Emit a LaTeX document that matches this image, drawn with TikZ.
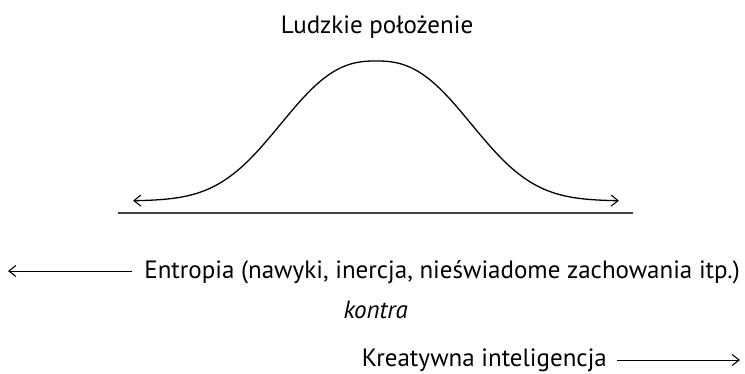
\documentclass[tikz,border=0pt]{standalone}
\usepackage{fontspec}
\setmainfont{PT Sans}
\usetikzlibrary{arrows.meta}
\begin{document}
\begin{tikzpicture}[x=1pt,y=-1pt,
  lbl/.style={inner sep=0pt,font=\fontsize{25}{29}\selectfont},
  barb/.style={Straight Barb[length=7pt,width=11pt,line width=1.1pt]},
  conn/.style={line width=0.9pt,-{Straight Barb[length=7pt,width=11pt,line width=1.1pt]}}]
\useasboundingbox (0,0) rectangle (745,373);
\node[lbl,anchor=base] (title) at (377,33) {Ludzkie położenie};
\coordinate (bl) at (118,213);
\coordinate (br) at (633,213);
\draw[line width=1.6pt,black!75] (bl) -- (br);
\draw[line width=1.3pt,{Straight Barb[length=7pt,width=11pt,line width=1.1pt]}-{Straight Barb[length=7pt,width=11pt,line width=1.1pt]}]
  plot[domain=133:619,samples=160,smooth] (\x,{201-140*exp(-((abs(\x-376)/117)^2.5))});
\node[lbl,anchor=base east] (entropy) at (740,278) {Entropia (nawyki, inercja, nieświadome zachowania itp.)};
\coordinate (eL) at (8,271);
\coordinate (eS) at ([xshift=-12pt]entropy.west);
\draw[conn] (eS |- eL) -- (eL);
\node[lbl,anchor=base east,font=\fontsize{25}{29}\selectfont\itshape] (kontra) at (408,318) {kontra};
\node[lbl,anchor=base east] (kreat) at (607,366) {Kreatywna inteligencja};
\coordinate (kR) at (740,360);
\coordinate (kS) at ([xshift=10pt]kreat.east);
\draw[conn] (kS |- kR) -- (kR);
\end{tikzpicture}
\end{document}
